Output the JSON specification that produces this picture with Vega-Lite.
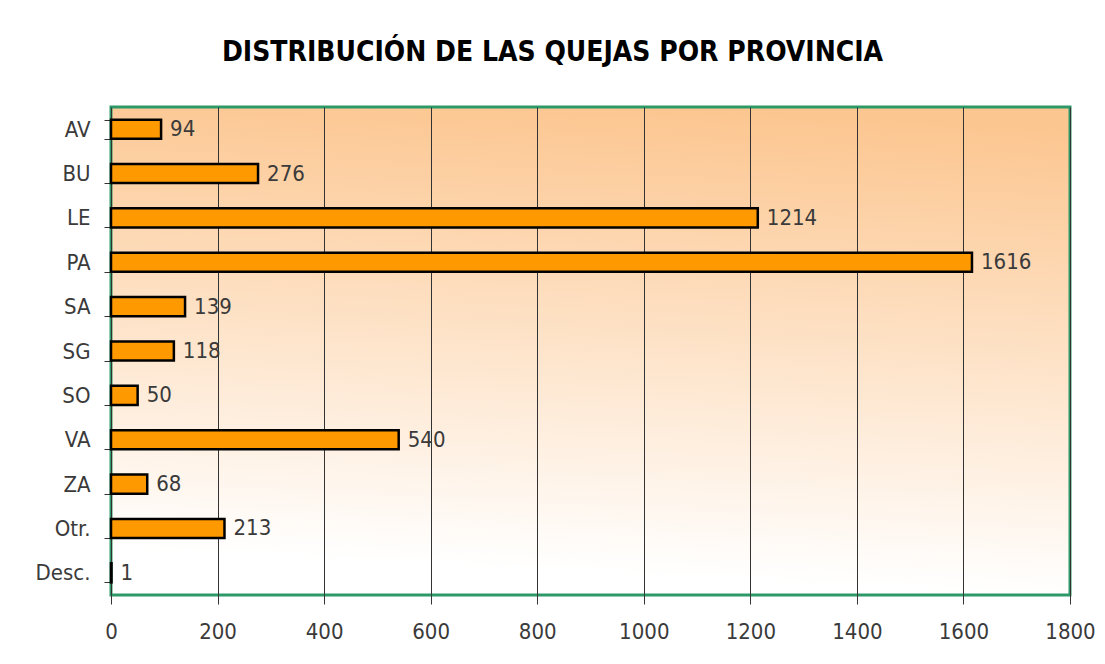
{
  "$schema": "https://vega.github.io/schema/vega-lite/v6.json",
  "width": 959,
  "height": 488,
  "autosize": {"type": "none"},
  "padding": {"left": 111, "top": 107, "right": 35, "bottom": 69},
  "background": "white",
  "title": {
    "text": "DISTRIBUCIÓN DE LAS QUEJAS POR PROVINCIA",
    "font": "DejaVu Sans Condensed",
    "fontSize": 28,
    "fontWeight": "bold",
    "color": "black",
    "anchor": "middle",
    "frame": "group",
    "dx": -38,
    "offset": 29
  },
  "config": {
    "view": {
      "stroke": "#2E9968",
      "strokeWidth": 3,
      "fill": {
        "gradient": "linear",
        "x1": 0.55, "y1": 0, "x2": 0.45, "y2": 1,
        "stops": [
          {"offset": 0, "color": "#FCC690"},
          {"offset": 0.95, "color": "#FFFFFF"},
          {"offset": 1, "color": "#FFFFFF"}
        ]
      }
    },
    "axis": {
      "labelFont": "DejaVu Sans Condensed",
      "labelFontSize": 22,
      "labelColor": "#3a3a3a",
      "tickColor": "#333333",
      "domain": false,
      "title": null
    }
  },
  "data": {
    "values": [
      {"provincia": "AV", "quejas": 94},
      {"provincia": "BU", "quejas": 276},
      {"provincia": "LE", "quejas": 1214},
      {"provincia": "PA", "quejas": 1616},
      {"provincia": "SA", "quejas": 139},
      {"provincia": "SG", "quejas": 118},
      {"provincia": "SO", "quejas": 50},
      {"provincia": "VA", "quejas": 540},
      {"provincia": "ZA", "quejas": 68},
      {"provincia": "Otr.", "quejas": 213},
      {"provincia": "Desc.", "quejas": 1}
    ]
  },
  "encoding": {
    "y": {
      "field": "provincia",
      "type": "nominal",
      "sort": null,
      "scale": {"paddingInner": 0.57, "paddingOuter": 0.285},
      "axis": {
        "tickBand": "extent",
        "tickSize": 7,
        "labelPadding": 14,
        "grid": false
      }
    },
    "x": {
      "field": "quejas",
      "type": "quantitative",
      "scale": {"domain": [0, 1800], "nice": false},
      "axis": {
        "values": [0, 200, 400, 600, 800, 1000, 1200, 1400, 1600, 1800],
        "format": "d",
        "labelFlush": false,
        "grid": true,
        "gridColor": "#333333",
        "gridOpacity": 1,
        "gridWidth": 1,
        "tickSize": 9,
        "labelPadding": 17
      }
    }
  },
  "layer": [
    {
      "mark": {"type": "bar", "fill": "#FF9900", "stroke": "black", "strokeWidth": 2.5}
    },
    {
      "mark": {
        "type": "text",
        "align": "left",
        "baseline": "middle",
        "dx": 9,
        "font": "DejaVu Sans Condensed",
        "fontSize": 22,
        "color": "#3a3a3a"
      },
      "encoding": {"text": {"field": "quejas", "type": "quantitative"}}
    }
  ]
}
